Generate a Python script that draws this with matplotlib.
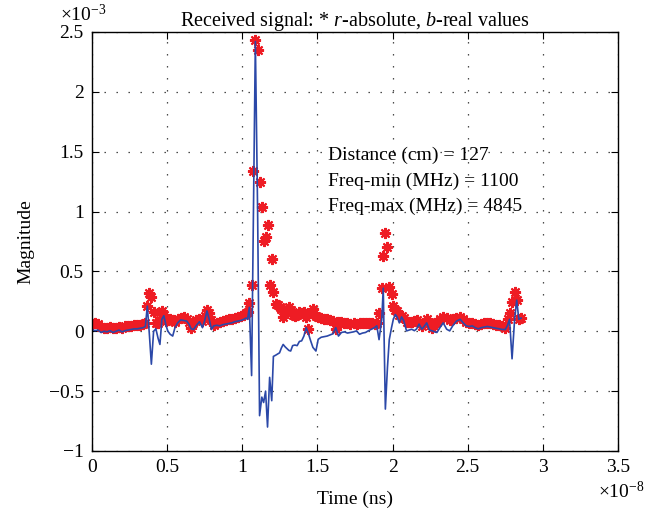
import numpy as np
import matplotlib
matplotlib.use('Agg')
import matplotlib.pyplot as plt
from matplotlib.ticker import FuncFormatter

plt.rcParams['font.family'] = ['Liberation Serif', 'DejaVu Serif']
plt.rcParams['mathtext.fontset'] = 'custom'
plt.rcParams['mathtext.rm'] = 'Liberation Serif'
plt.rcParams['mathtext.it'] = 'Liberation Serif:italic'

# time in units of 1e-8 s, signal in units of 1e-3
t = [0.00, 0.02, 0.04, 0.06, 0.08, 0.10, 0.12, 0.14, 0.16, 0.18,
     0.20, 0.22, 0.24, 0.26, 0.28, 0.30, 0.32, 0.34, 0.355, 0.368,
     0.382, 0.395, 0.41, 0.425, 0.44, 0.452, 0.465, 0.478, 0.492, 0.505,
     0.52, 0.537, 0.552, 0.57, 0.59, 0.61, 0.63, 0.645, 0.66, 0.675,
     0.695, 0.715, 0.735, 0.75, 0.765, 0.78, 0.795, 0.81, 0.83, 0.85,
     0.87, 0.89, 0.91, 0.93, 0.95, 0.97, 0.99, 1.01, 1.025, 1.035,
     1.047, 1.062, 1.074, 1.087, 1.102, 1.115, 1.13, 1.142, 1.155, 1.168,
     1.182, 1.196, 1.207, 1.222, 1.235, 1.248, 1.26, 1.272, 1.285, 1.297,
     1.31, 1.322, 1.335, 1.35, 1.365, 1.38, 1.395, 1.41, 1.425, 1.44,
     1.455, 1.47, 1.49, 1.505, 1.525, 1.545, 1.565, 1.585, 1.605, 1.622,
     1.64, 1.66, 1.68, 1.70, 1.72, 1.74, 1.76, 1.78, 1.80, 1.82,
     1.84, 1.86, 1.88, 1.895, 1.91, 1.928, 1.938, 1.952, 1.966, 1.978,
     1.993, 2.005, 2.018, 2.03, 2.045, 2.06, 2.075, 2.093, 2.11, 2.127,
     2.145, 2.16, 2.176, 2.195, 2.21, 2.227, 2.245, 2.265, 2.28, 2.295,
     2.315, 2.337, 2.36, 2.38, 2.40, 2.425, 2.45, 2.47, 2.49, 2.51,
     2.53, 2.55, 2.57, 2.59, 2.61, 2.63, 2.65, 2.67, 2.69, 2.71,
     2.73, 2.75, 2.765, 2.778, 2.795, 2.812, 2.826, 2.84, 2.855]

real_vals = [0.015, 0.005, 0.01, -0.01, 0.0, -0.005, 0.005, -0.01, 0.0, 0.01,
             -0.005, 0.005, 0.01, 0.015, 0.02, 0.02, 0.025, 0.03, 0.04, 0.21,
             -0.03, -0.275, 0.0, 0.02, -0.06, -0.11, 0.10, 0.13, 0.05, 0.0,
             -0.025, -0.04, 0.03, 0.07, 0.095, 0.09, 0.085, 0.06, 0.02, 0.015,
             0.05, 0.08, 0.03, 0.09, 0.17, 0.10, 0.015, 0.045, 0.05, 0.045,
             0.055, 0.06, 0.065, 0.07, 0.08, 0.085, 0.09, 0.10, 0.11, 0.10,
             0.20, -0.37, 0.95, 2.42, 1.0, -0.705, -0.55, -0.595, -0.50, -0.80,
             -0.385, -0.58, -0.21, -0.20, -0.19, -0.18, -0.14, -0.11, -0.13, -0.145,
             -0.16, -0.165, -0.12, -0.115, -0.12, -0.085, -0.08, -0.04, 0.03, -0.02,
             -0.08, -0.135, -0.165, -0.067, -0.05, -0.045, -0.04, -0.03, -0.02, 0.03,
             -0.04, -0.01, -0.005, -0.015, -0.01, -0.005, 0.003, -0.025, -0.015, -0.01,
             0.005, 0.017, 0.03, 0.045, -0.07, 0.10, 0.36, -0.65, -0.30, -0.07,
             0.03, 0.10, 0.14, 0.12, 0.07, 0.12, 0.085, 0.003, 0.01, 0.017,
             0.005, 0.02, 0.06, 0.017, 0.04, 0.07, 0.01, 0.003, -0.005, -0.01,
             0.03, 0.07, 0.017, 0.003, 0.045, 0.085, 0.10, 0.07, 0.045, 0.04,
             0.045, 0.03, 0.02, 0.03, 0.035, 0.04, 0.035, 0.03, 0.025, 0.02,
             0.015, 0.015, 0.05, 0.10, -0.23, 0.10, 0.26, 0.10, 0.11]

abs_vals = [0.06, 0.065, 0.06, 0.035, 0.03, 0.025, 0.035, 0.03, 0.025, 0.035,
            0.03, 0.04, 0.045, 0.045, 0.05, 0.05, 0.055, 0.06, 0.07, 0.21,
            0.32, 0.29, 0.16, 0.065, 0.07, 0.09, 0.17, 0.14, 0.085, 0.09,
            0.10, 0.09, 0.08, 0.10, 0.11, 0.12, 0.10, 0.08, 0.03, 0.07,
            0.09, 0.10, 0.085, 0.13, 0.18, 0.15, 0.09, 0.05, 0.07, 0.08,
            0.085, 0.09, 0.10, 0.105, 0.11, 0.12, 0.13, 0.14, 0.15, 0.16,
            0.24, 0.39, 1.34, 2.43, 2.35, 1.25, 1.036, 0.75, 0.79, 0.886,
            0.39, 0.60, 0.33, 0.225, 0.22, 0.205, 0.19, 0.115, 0.16, 0.15,
            0.20, 0.18, 0.14, 0.13, 0.14, 0.16, 0.15, 0.16, 0.12, 0.02,
            0.15, 0.19, 0.13, 0.12, 0.11, 0.105, 0.10, 0.095, 0.085, 0.02,
            0.08, 0.075, 0.07, 0.065, 0.06, 0.065, 0.06, 0.065, 0.07, 0.065,
            0.07, 0.07, 0.06, 0.065, 0.15, 0.36, 0.63, 0.82, 0.70, 0.37,
            0.31, 0.21, 0.18, 0.17, 0.14, 0.13, 0.11, 0.08, 0.075, 0.08,
            0.085, 0.09, 0.08, 0.04, 0.07, 0.10, 0.065, 0.03, 0.07, 0.08,
            0.10, 0.12, 0.11, 0.09, 0.10, 0.11, 0.12, 0.10, 0.08, 0.07,
            0.065, 0.06, 0.055, 0.06, 0.065, 0.07, 0.065, 0.06, 0.055, 0.05,
            0.045, 0.03, 0.10, 0.155, 0.245, 0.33, 0.26, 0.10, 0.11]

info_lines = ['Distance (cm) = 127', 'Freq-min (MHz) = 1100', 'Freq-max (MHz) = 4845']
xticks = [0, 0.5, 1, 1.5, 2, 2.5, 3, 3.5]
yticks = [-1, -0.5, 0, 0.5, 1, 1.5, 2, 2.5]

fig = plt.figure(figsize=(6.59, 5.14), dpi=100)
ax = fig.add_axes([0.1396, 0.1226, 0.7982, 0.8152])

ax.plot(t, abs_vals, linestyle='none', marker=(8, 2, 0), color='#ee1c24',
        markersize=8, markeredgewidth=1.5)
ax.plot(t, real_vals, color='#2b48a8', linewidth=1.2)

ax.set_xlim(0, 3.5)
ax.set_ylim(-1, 2.5)
ax.set_xticks(xticks)
ax.set_yticks(yticks)
fmt = FuncFormatter(lambda v, p: ('%g' % v).replace('-', '\u2212'))
ax.xaxis.set_major_formatter(fmt)
ax.yaxis.set_major_formatter(fmt)
ax.tick_params(direction='in', length=5, width=0.8, top=True, right=True,
               labelsize=14, pad=6)
for s in ax.spines.values():
    s.set_linewidth(1.0)
ax.grid(True, color='#333333', linewidth=0.9, linestyle=(0, (1.1, 8.5)))

ax.text(0.5, 1.014, r'Received signal: * $r$-absolute, $b$-real values',
        transform=ax.transAxes, ha='center', va='baseline', fontsize=14.5)
ax.text(-0.061, 1.026, r'$\times10^{-3}$', transform=ax.transAxes,
        ha='left', va='baseline', fontsize=14)
ax.text(1.051, -0.112, r'$\times10^{-8}$', transform=ax.transAxes,
        ha='right', va='baseline', fontsize=14)
ax.set_xlabel('Time (ns)', fontsize=14, labelpad=10)
ax.set_ylabel('Magnitude', fontsize=14, labelpad=10)

for i, line in enumerate(info_lines):
    ax.text(1.57, 1.433 - 0.216 * i, line, fontsize=14, va='baseline')

fig.savefig('out.png', dpi=100)
